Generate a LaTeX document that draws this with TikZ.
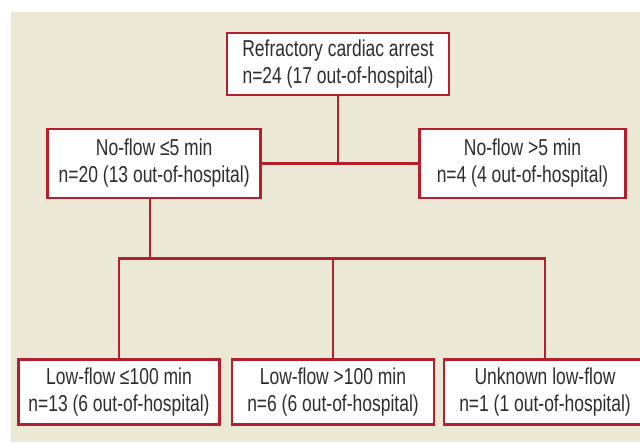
\documentclass[tikz,border=0pt]{standalone}
\usepackage{fontspec}
\setmainfont{Liberation Sans}[FakeStretch=0.76]
\usetikzlibrary{calc}

\definecolor{panel}{RGB}{236,232,214}
\definecolor{wire}{RGB}{178,32,46}
\definecolor{ink}{RGB}{45,45,45}

\def\boxh{64.5}
\def\lowy{392}

\begin{document}
\begin{tikzpicture}[x=1pt, y=-1pt, line cap=rect,
    box/.style={draw=wire, line width=2.6pt, fill=white, text=ink,
                align=center, inner sep=0pt,
                font=\fontsize{23}{27}\selectfont},
    link/.style={draw=wire, line width=2.6pt}
  ]

    \useasboundingbox (0,0) rectangle (640,442);
    \fill [white] (0,0) rectangle (640,442);
    \fill [panel] (10.5,12) rectangle (640,442);

    % top of the tree
    \node [box, minimum width=222pt, minimum height=62pt] (arrest) at (338,64)
        {Refractory cardiac arrest\\n=24 (17 out-of-hospital)};

    % no-flow split
    \node [box, minimum width=213pt, minimum height=69pt] (nflow1) at (154.2,163.5)
        {No-flow ≤5 min\\n=20 (13 out-of-hospital)};
    \node [box, minimum width=206pt, minimum height=69pt] (nflow2) at (522.5,163.5)
        {No-flow >5 min\\n=4 (4 out-of-hospital)};

    % low-flow split
    \node [box, minimum width=201pt, minimum height=\boxh pt] (lflow1) at (119,\lowy)
        {Low-flow ≤100 min\\n=13 (6 out-of-hospital)};
    \node [box, minimum width=202pt, minimum height=\boxh pt] (lflow2) at (333,\lowy)
        {Low-flow >100 min\\n=6 (6 out-of-hospital)};
    \node [box, minimum width=202pt, minimum height=\boxh pt] (lflow3) at (545,\lowy)
        {Unknown low-flow\\n=1 (1 out-of-hospital)};

    \coordinate (fork) at (150,258.5);

    \draw [link] (nflow1.east) -- (nflow2.west);
    \draw [link] (arrest.south) -- (arrest.south |- nflow1.east);
    \draw [link] (nflow1.south -| fork) -- (fork);
    \draw [link] (lflow1.north) |- (lflow3.north |- fork) -- (lflow3.north);
    \draw [link] (lflow2.north) -- (lflow2.north |- fork);

\end{tikzpicture}
\end{document}
